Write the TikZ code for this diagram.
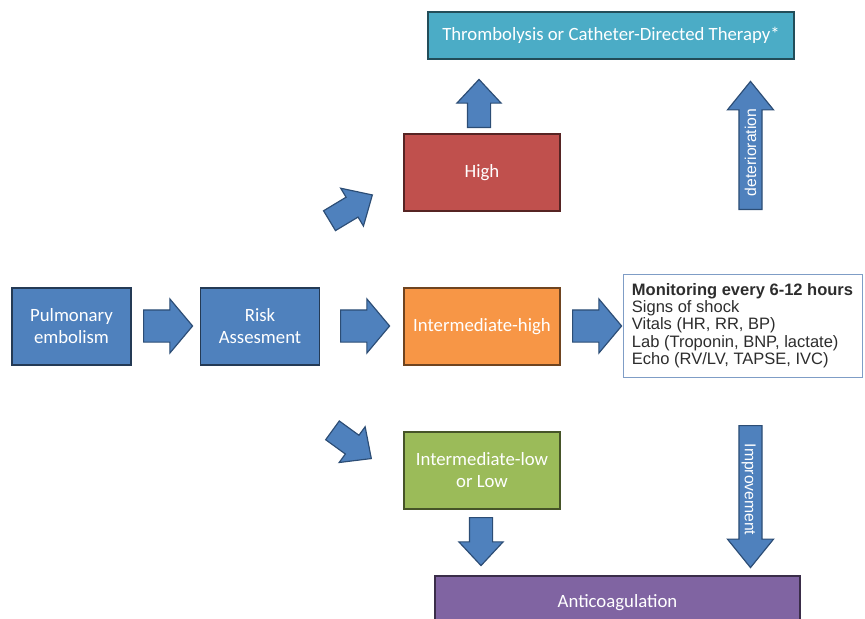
\documentclass[tikz,border=0pt]{standalone}
\usepackage{fontspec}
\setmainfont{Carlito}
\newfontfamily\arialfont{Liberation Sans}
\usetikzlibrary{shapes.arrows}
\definecolor{riskblue}{RGB}{79,129,189}
\definecolor{riskred}{RGB}{192,80,77}
\definecolor{riskorange}{RGB}{247,150,70}
\definecolor{riskgreen}{RGB}{155,187,89}
\definecolor{riskpurple}{RGB}{128,100,162}
\definecolor{riskteal}{RGB}{75,172,198}
\definecolor{arrowedge}{RGB}{44,77,117}
\definecolor{monitoredge}{RGB}{127,157,198}
\definecolor{monitortext}{RGB}{45,45,45}
\newcommand{\pxu}{0.03cm}

\begin{document}
\begin{tikzpicture}[x=0.03cm, y=-0.03cm,
    box/.style={rectangle, draw=#1!45!black, fill=#1, line width=1pt,
                text=white, align=center, inner sep=0pt,
                font=\fontsize{16}{18.7}\selectfont},
    smallbox/.style={box=#1, minimum width=119*\pxu, minimum height=77*\pxu},
    riskbox/.style={box=#1, minimum width=156*\pxu, minimum height=77*\pxu},
    barrow/.style={single arrow, draw=arrowedge, fill=riskblue, line width=1pt,
                   inner xsep=0pt, anchor=tail},
    harrow/.style={barrow, inner ysep=15.5*\pxu, single arrow head extend=11*\pxu,
                   single arrow tip angle=100, minimum height=49*\pxu},
    varrow/.style={barrow, inner ysep=11*\pxu, single arrow head extend=10.5*\pxu,
                   single arrow tip angle=86, minimum height=48*\pxu},
    textarrow/.style={barrow, text=white, font=\arialfont\fontsize{13.4}{14}\selectfont,
                      text height=9.7pt, text depth=0pt, inner ysep=4.5pt,
                      single arrow head extend=11.5*\pxu, single arrow tip angle=78}
]
\useasboundingbox (0,0) rectangle (865,619);

% boxes
\node[smallbox=riskblue] (pe) at (71.5,326.5) {Pulmonary\\embolism};
\node[smallbox=riskblue] (risk) at (260,326.5) {Risk\\Assesment};
\node[riskbox=riskred] (high) at (482,172.5) {High};
\node[riskbox=riskorange] (inthigh) at (482,326.5) {Intermediate-high};
\node[riskbox=riskgreen] (intlow) at (482,470.5) {Intermediate-low\\or Low};
\node[box=riskteal, minimum width=366*\pxu, minimum height=47*\pxu] (lysis)
    at (611,35.5) {Thrombolysis or Catheter-Directed Therapy*};
\node[box=riskpurple, minimum width=365*\pxu, minimum height=54*\pxu] (anticoag)
    at (617.5,603) {Anticoagulation};
\node[rectangle, draw=monitoredge, fill=white, line width=0.8pt,
      minimum width=239*\pxu, minimum height=103*\pxu, inner sep=0pt,
      align=left, text=monitortext,
      font=\arialfont\fontsize{14.1}{14.7}\selectfont] (monitor) at (742.5,325.5)
    {{\bfseries Monitoring every 6-12 hours}\\Signs of shock\\Vitals (HR, RR, BP)\\
     Lab (Troponin, BNP, lactate)\\Echo (RV/LV, TAPSE, IVC)};

% block arrows (placed by their tails)
\node[harrow] (toRisk) at (143,326) {};
\node[harrow] (toInt) at (340,326) {};
\node[harrow] (toMonitor) at (572,326) {};
\node[varrow, minimum height=50*\pxu, rotate=31] (toHigh) at (329,221) {};
\node[varrow, minimum height=48*\pxu, rotate=-36] (toLow) at (332,430) {};
\node[varrow, rotate=90] (toLysis) at (479,128) {};
\node[varrow, rotate=-90] (toAnticoag) at (481,517) {};
\node[textarrow, minimum height=128*\pxu, rotate=90] (deterioration)
    at (750.5,210) {deterioration};
\node[textarrow, minimum height=142*\pxu, rotate=-90] (improvement)
    at (750.5,425) {Improvement};
\end{tikzpicture}
\end{document}
